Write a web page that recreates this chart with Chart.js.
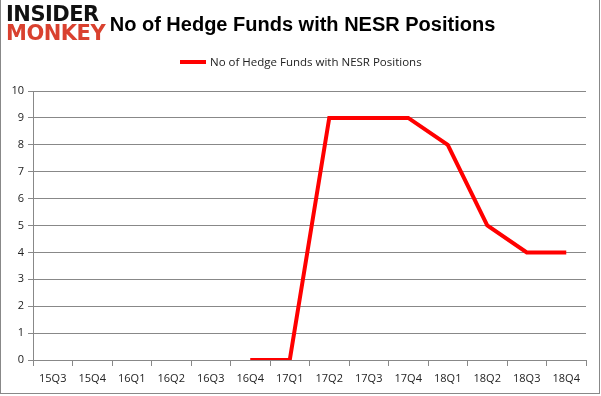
<!DOCTYPE html>
<html>
<head>
<meta charset="utf-8">
<script src="https://cdn.jsdelivr.net/npm/chart.js@4"></script>
<style>
  html, body { margin: 0; padding: 0; background: #fff; }
  #wrap { position: relative; width: 601px; height: 396px; overflow: hidden; }
  #frame { position: absolute; left: 0; top: -2px; width: 598px; height: 394px; border: 1px solid #888; pointer-events: none; }
  #logo { position: absolute; left: 6px; top: 5px; font-family: "DejaVu Sans", sans-serif; font-weight: 900; line-height: 19px; letter-spacing: -0.5px; }
  #logo .a { color: #111; font-size: 21px; }
  #logo .b { color: #d9412f; font-size: 21px; }
  #title { position: absolute; left: 0; width: 601px; top: 13px; text-align: center; padding-left: 4px; box-sizing: border-box;
    font-family: "Liberation Sans", Arial, sans-serif; font-weight: bold; font-size: 20px; color: #000; }
  #legend { position: absolute; left: 180px; top: 54px; font-family: "Open Sans", sans-serif; font-size: 11.5px; color: #222; }
  #legend span.sw { display: inline-block; width: 26px; height: 4px; background: #ff0000; vertical-align: middle; margin-right: 4px; margin-top: -2px; }
  canvas { position: absolute; left: 0; top: 0; }
</style>
</head>
<body>
<div id="wrap">
  <canvas id="chart" width="601" height="396"></canvas>
  <div id="logo"><div class="a">INSIDER</div><div class="b">MONKEY</div></div>
  <div id="title">No of Hedge Funds with NESR Positions</div>
  <div id="legend"><span class="sw"></span>No of Hedge Funds with NESR Positions</div>
  <div id="frame"></div>
</div>
<script>
// quarters on the x axis
const quarters = ['15Q3', '15Q4', '16Q1', '16Q2', '16Q3', '16Q4', '17Q1', '17Q2', '17Q3', '17Q4', '18Q1', '18Q2', '18Q3', '18Q4'];
// hedge fund count per quarter (no data before 16Q4)
const fundCounts = [null, null, null, null, null, 0, 0, 9, 9, 9, 8, 5, 4, 4];
const yTicks = [0, 1, 2, 3, 4, 5, 6, 7, 8, 9, 10];

const tickFont = { family: "'Open Sans', sans-serif", size: 11 };

new Chart(document.getElementById('chart'), {
  type: 'line',
  data: {
    labels: quarters,
    datasets: [{
      label: 'No of Hedge Funds with NESR Positions',
      data: fundCounts,
      borderColor: '#ff0000',
      borderWidth: 4,
      pointRadius: 0,
      tension: 0,
      spanGaps: false
    }]
  },
  options: {
    responsive: false,
    animation: false,
    layout: { padding: { left: 0, right: 15, top: 91, bottom: 0 } },
    plugins: { legend: { display: false }, title: { display: false }, tooltip: { enabled: false } },
    scales: {
      x: {
        offset: true,
        grid: { offset: true, drawOnChartArea: false, color: '#888', tickLength: 6, tickColor: '#888' },
        border: { color: '#888', width: 1 },
        ticks: { color: '#222', font: tickFont, maxRotation: 0, padding: 6 },
        afterFit: s => { s.height = 36; }
      },
      y: {
        min: 0,
        max: 10,
        afterBuildTicks: s => { s.ticks = yTicks.map(v => ({ value: v })); },
        grid: { color: '#888', tickLength: 5, tickColor: '#888' },
        border: { color: '#888', width: 1 },
        ticks: { color: '#222', font: tickFont, padding: 4 },
        afterFit: s => { s.width = 33; }
      }
    }
  }
});
</script>
</body>
</html>
